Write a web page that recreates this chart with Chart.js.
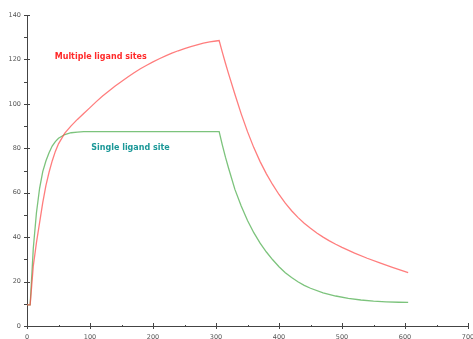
<!DOCTYPE html>
<html>
<head>
<meta charset="utf-8">
<script src="https://cdn.jsdelivr.net/npm/chart.js@4"></script>
<style>
  html, body { margin: 0; padding: 0; background: #fff; }
  #wrap { width: 473px; height: 339px; }
</style>
</head>
<body>
<div id="wrap"><canvas id="chart"></canvas></div>
<script>
// Multiple ligand sites (red)
const multiTimes  = [0, 5, 10, 15, 20, 25, 30, 35, 40, 45, 50, 60, 70, 80, 90, 100, 110, 120, 130, 140, 150, 160, 170, 180, 190,
                     200, 210, 220, 230, 240, 250, 260, 270, 280, 290, 300, 305,
                     310, 315, 320, 330, 340, 350, 360, 370, 380, 390, 400, 410, 420, 430, 440, 450, 460, 470, 480, 490,
                     500, 520, 540, 560, 580, 605];
const multiValues = [9.5, 9.5, 27, 37.5, 46.5, 55.5, 63.2, 69.2, 74.3, 78.6, 82, 86.8, 90.1, 93, 95.7, 98.3, 101, 103.5, 105.8, 108, 110.1, 112.1, 114, 115.8, 117.4,
                     118.9, 120.3, 121.6, 122.8, 123.9, 124.9, 125.8, 126.6, 127.3, 127.9, 128.3, 128.5,
                     123.3, 118.3, 113.5, 104.3, 95.5, 87.5, 80.3, 74, 68.5, 63.6, 59.2, 55.3, 51.9, 48.9, 46.3, 44, 41.9, 40, 38.3, 36.8,
                     35.4, 32.8, 30.5, 28.4, 26.4, 24];

// Single ligand site (green)
const singleTimes  = [0, 5, 10, 15, 20, 25, 30, 35, 40, 45, 50, 60, 70, 80, 90, 305,
                      310, 315, 320, 330, 340, 350, 360, 370, 380, 390, 400, 410, 420, 430, 440, 450,
                      470, 490, 510, 530, 550, 570, 590, 605];
const singleValues = [9.5, 9.5, 35, 51, 62, 69.5, 74.3, 78, 81, 83, 84.5, 86.2, 87, 87.3, 87.5, 87.5,
                      81.5, 76, 71, 61.5, 54, 47.5, 42, 37.3, 33.3, 29.8, 26.7, 24, 21.8, 19.9, 18.3, 17,
                      14.9, 13.5, 12.4, 11.7, 11.2, 10.9, 10.7, 10.6];

const xTicks = [0, 100, 200, 300, 400, 500, 600, 700];
const yTicks = [0, 20, 40, 60, 80, 100, 120, 140];

const annotations = [
  { text: 'Multiple ligand sites', x: 44, y: 121, color: '#ff2a2a' },
  { text: 'Single ligand site', x: 102, y: 80, color: '#1b9898' }
];

function toPoints(ts, vs) {
  return ts.map((t, i) => ({ x: t, y: vs[i] }));
}

// Axis ticks: long crossing ticks for majors, short ones for minors
const tickPlugin = {
  id: 'axisTicks',
  afterDraw(chart) {
    const { ctx, scales: { x, y }, chartArea } = chart;
    ctx.save();
    ctx.strokeStyle = '#444';
    ctx.lineWidth = 1;
    ctx.beginPath();
    for (let v = 0; v <= 140; v += 10) {
      const py = Math.round(y.getPixelForValue(v)) + 0.5;
      const major = v % 20 === 0;
      ctx.moveTo(chartArea.left - 3, py);
      ctx.lineTo(chartArea.left + (major ? 3 : 0), py);
    }
    for (let t = 0; t <= 700; t += 50) {
      const px = Math.round(x.getPixelForValue(t)) + 0.5;
      const major = t % 100 === 0;
      ctx.moveTo(px, chartArea.bottom - (major ? 3 : 1));
      ctx.lineTo(px, chartArea.bottom + (major ? 3 : 1));
    }
    ctx.stroke();

    ctx.font = 'bold 8px "DejaVu Sans"';
    ctx.textBaseline = 'middle';
    annotations.forEach(a => {
      ctx.fillStyle = a.color;
      ctx.fillText(a.text, x.getPixelForValue(a.x), y.getPixelForValue(a.y));
    });
    ctx.restore();
  }
};

new Chart(document.getElementById('chart'), {
  type: 'line',
  data: {
    datasets: [
      {
        label: 'Multiple ligand sites',
        data: toPoints(multiTimes, multiValues),
        borderColor: 'rgba(255, 70, 70, 0.7)',
        borderWidth: 1.3,
        pointRadius: 0,
        tension: 0,
        fill: false
      },
      {
        label: 'Single ligand site',
        data: toPoints(singleTimes, singleValues),
        borderColor: 'rgba(80, 175, 80, 0.75)',
        borderWidth: 1.3,
        pointRadius: 0,
        tension: 0,
        fill: false
      }
    ]
  },
  options: {
    responsive: true,
    maintainAspectRatio: false,
    animation: false,
    layout: { padding: { top: 15, right: 5, left: 0, bottom: 0 } },
    plugins: {
      legend: { display: false },
      tooltip: { enabled: false }
    },
    scales: {
      x: {
        type: 'linear',
        min: 0,
        max: 700,
        afterBuildTicks: s => { s.ticks = xTicks.map(v => ({ value: v })); },
        afterFit: s => { s.height = 13; s.paddingLeft = 0; s.paddingRight = 0; },
        grid: { display: false, drawTicks: false },
        border: { display: true, color: '#444', width: 1 },
        ticks: { color: '#555', font: { family: 'DejaVu Sans', size: 6.5 }, padding: 7, maxRotation: 0 }
      },
      y: {
        min: 0,
        max: 140,
        afterBuildTicks: s => { s.ticks = yTicks.map(v => ({ value: v })); },
        afterFit: s => { s.width = 27; s.paddingTop = 0; s.paddingBottom = 0; },
        grid: { display: false, drawTicks: false },
        border: { display: true, color: '#444', width: 1 },
        ticks: { color: '#555', font: { family: 'DejaVu Sans', size: 6.5 }, padding: 6 }
      }
    }
  },
  plugins: [tickPlugin]
});
</script>
</body>
</html>
